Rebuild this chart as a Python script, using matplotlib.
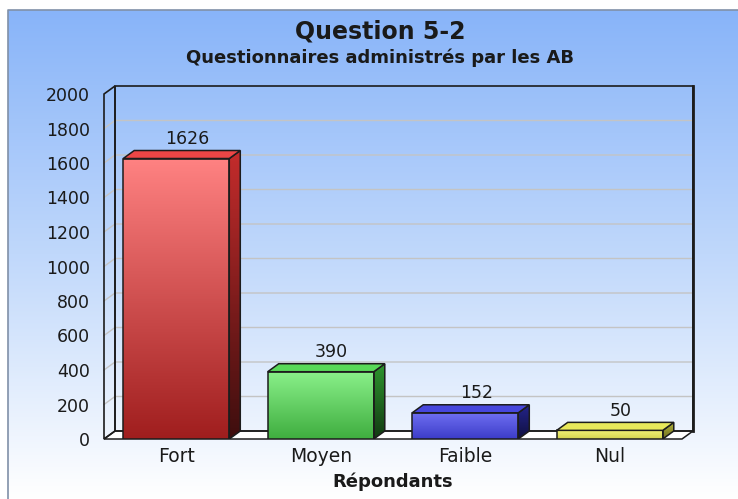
import numpy as np
import matplotlib.pyplot as plt
from matplotlib.patches import Polygon, Rectangle
from matplotlib.colors import LinearSegmentedColormap

# --- data ---
categories = ['Fort', 'Moyen', 'Faible', 'Nul']
values = [1626, 390, 152, 50]
yticks = [0, 200, 400, 600, 800, 1000, 1200, 1400, 1600, 1800, 2000]

title = 'Question 5-2'
subtitle = 'Questionnaires administrés par les AB'
xlabel = 'Répondants'

# front top, front bottom, top face, side top, side bottom
bar_colors = [
    ('#ff8282', '#a01e1e', '#ec4646', '#c42c2c', '#3e0e0e'),
    ('#8af08a', '#3fae3f', '#58d858', '#2e962e', '#123a12'),
    ('#7070f2', '#3c3cc8', '#4646dc', '#24248c', '#101040'),
    ('#f2f276', '#d4d450', '#e8e85a', '#b4b43a', '#6e6e20'),
]

plt.rcParams['font.family'] = ['DejaVu Sans']
text_col = '#1a1a1a'

W, H = 738, 499
fig = plt.figure(figsize=(W / 100, H / 100), dpi=100)

# --- background panel with gradient ---
bg = fig.add_axes([0, 0, 1, 1])
bg.set_xlim(0, W)
bg.set_ylim(H, 0)
bg.axis('off')
bg_cmap = LinearSegmentedColormap.from_list('bg', ['#88b4f9', '#c0d8fb', '#ffffff'])
bg.imshow(np.linspace(0, 1, 256)[:, None], cmap=bg_cmap, extent=(8, W, H, 10), aspect='auto')
bg.plot([8, 8, W], [H, 10, 10], color='#8090a8', lw=1.2)

# --- main axes (front plane of the 3D box) ---
ax = fig.add_axes([104 / W, 1 - 439 / H, 578 / W, 345 / H])
ax.set_facecolor('none')
for s in ax.spines.values():
    s.set_visible(False)

xmin, xmax, ymax = -0.5, 3.5, 2000
dx = 11 / 144.5          # depth offset in x data units
dy = 8 / 0.1725          # depth offset in y data units
edge = '#1c1c1c'

# floor
ax.add_patch(Polygon([(xmin, 0), (xmax, 0), (xmax + dx, dy), (xmin + dx, dy)],
                     closed=True, facecolor='white', edgecolor=edge, lw=1.1,
                     zorder=1, clip_on=False))
# grid lines on left wall and back wall
for t in yticks[1:-1]:
    ax.plot([xmin, xmin + dx, xmax + dx], [t, t + dy, t + dy],
            color='#c4c4c4', lw=1, zorder=0.5, clip_on=False)
# back wall
ax.add_patch(Rectangle((xmin + dx, dy), xmax - xmin, ymax, facecolor='none',
                       edgecolor=edge, lw=1.2, zorder=1, clip_on=False))
ax.plot([xmax + dx, xmax + dx], [dy, ymax + dy], color=edge, lw=2, zorder=1, clip_on=False)
# left wall
ax.add_patch(Polygon([(xmin, 0), (xmin + dx, dy), (xmin + dx, ymax + dy), (xmin, ymax)],
                     closed=True, facecolor='none', edgecolor=edge, lw=1.2,
                     zorder=1, clip_on=False))

# --- 3D bars ---
bw = 0.734
grad = np.linspace(0, 1, 128)[:, None]
for i, (v, cols) in enumerate(zip(values, bar_colors)):
    ftop, fbot, topc, stop, sbot = cols
    x0, x1 = i - bw / 2, i + bw / 2

    # front face
    front = Rectangle((x0, 0), bw, v, facecolor='none', edgecolor=edge, lw=1.1, zorder=4)
    ax.add_patch(front)
    im = ax.imshow(grad, origin='lower', extent=(x0, x1, 0, v), aspect='auto', zorder=3,
                   cmap=LinearSegmentedColormap.from_list('f%d' % i, [fbot, ftop]))
    im.set_clip_path(front)

    # side face
    side = Polygon([(x1, 0), (x1 + dx, dy), (x1 + dx, v + dy), (x1, v)], closed=True,
                   facecolor='none', edgecolor=edge, lw=1.1, zorder=4)
    ax.add_patch(side)
    im2 = ax.imshow(grad, origin='lower', extent=(x1, x1 + dx, 0, v + dy), aspect='auto', zorder=3,
                    cmap=LinearSegmentedColormap.from_list('s%d' % i, [sbot, stop]))
    im2.set_clip_path(side)

    # top face
    ax.add_patch(Polygon([(x0, v), (x1, v), (x1 + dx, v + dy), (x0 + dx, v + dy)], closed=True,
                         facecolor=topc, edgecolor=edge, lw=1.1, zorder=4))

    # value label
    ax.text(i + dx, v + 113, str(v), ha='center', va='center', fontsize=12.5,
            color=text_col, zorder=5)

ax.set_xlim(xmin, xmax)
ax.set_ylim(0, ymax)
ax.set_yticks(yticks)
ax.set_yticklabels([str(t) for t in yticks], fontsize=12.5, color=text_col)
ax.set_xticks(range(len(categories)))
ax.set_xticklabels(categories, fontsize=13.5, color=text_col)
ax.tick_params(axis='y', length=0, pad=10)
ax.tick_params(axis='x', length=0, pad=6)

# --- titles ---
fig.text(380 / W, 1 - 32 / H, title, ha='center', va='center', fontsize=17,
         fontweight='bold', color=text_col)
fig.text(380 / W, 1 - 58 / H, subtitle, ha='center', va='center', fontsize=13,
         fontweight='bold', color=text_col)
fig.text(393 / W, 1 - 482 / H, xlabel, ha='center', va='center', fontsize=13,
         fontweight='bold', color=text_col)

fig.savefig('out.png', dpi=100)
